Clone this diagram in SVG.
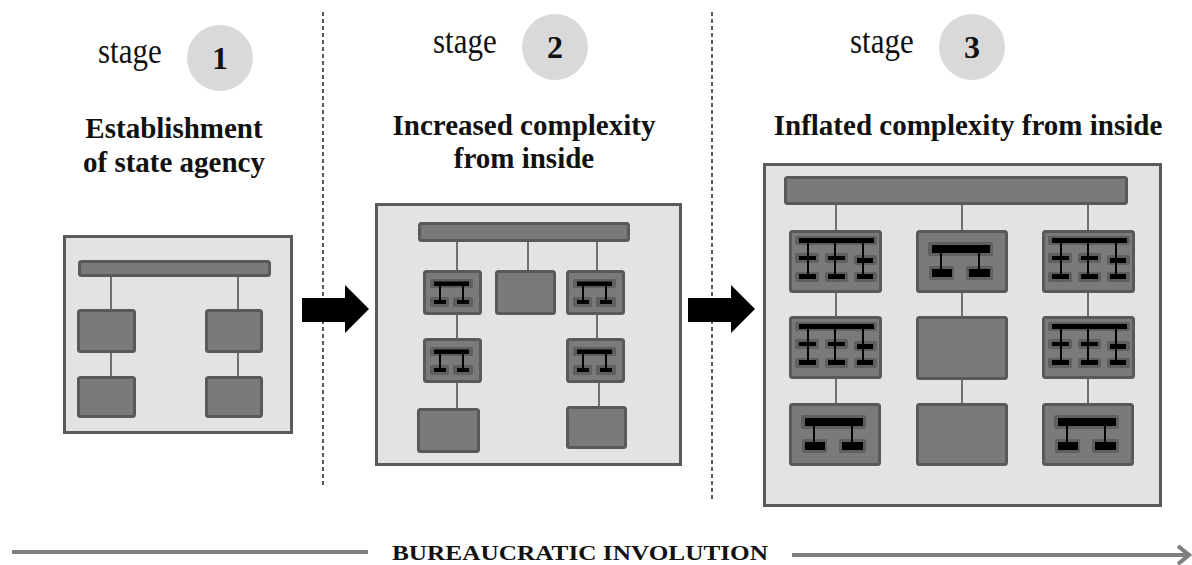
<svg xmlns="http://www.w3.org/2000/svg" xmlns:xlink="http://www.w3.org/1999/xlink" width="1192" height="565" viewBox="0 0 1192 565">
<style>
.frame{fill:#e3e3e3;stroke:#5a5a5a;stroke-width:3}
.box{fill:#7a7a7a;stroke:#595959;stroke-width:3}
.ibg{fill:#5f5f5f}
.blk{fill:#000}
.stem{stroke:#000;stroke-width:2}
.con{stroke:#707070;stroke-width:2;fill:none}
.dash{stroke:#000;stroke-width:1.3;stroke-dasharray:4 3}
.stg{font-family:"Liberation Serif","Times New Roman",serif;font-size:31px;fill:#111}
.num{font-family:"Liberation Serif","Times New Roman",serif;font-size:32px;font-weight:bold;fill:#111;text-anchor:middle}
.hd{font-family:"Liberation Serif","Times New Roman",serif;font-size:29px;font-weight:bold;fill:#111;text-anchor:middle}
.ft{font-family:"Liberation Serif","Times New Roman",serif;font-size:22px;font-weight:bold;fill:#111}
.circ{fill:#d9d9d9}
.gl{stroke:#7f7f7f;stroke-width:4;fill:none}
</style>
<defs>
<g id="p2">
<rect class="box" x="1.5" y="1.5" width="56" height="42" rx="2"/>
<rect class="ibg" x="7" y="9" width="43" height="9" rx="2"/>
<rect class="ibg" x="7" y="27" width="19" height="10" rx="2"/>
<rect class="ibg" x="30" y="27" width="20" height="10" rx="2"/>
<line class="stem" x1="17" y1="15" x2="17" y2="30"/>
<line class="stem" x1="40" y1="15" x2="40" y2="30"/>
<rect class="blk" x="11" y="11.5" width="35" height="4.5"/>
<rect class="blk" x="11" y="30" width="12" height="4"/>
<rect class="blk" x="34" y="30" width="12" height="4"/>
</g>
<g id="p3col">
<rect class="box" x="1.5" y="1.5" width="90" height="60" rx="2"/>
<rect class="ibg" x="6" y="6" width="82" height="9" rx="2"/>
<rect class="ibg" x="6" y="23" width="24" height="10" rx="2"/>
<rect class="ibg" x="36" y="23" width="23" height="10" rx="2"/>
<rect class="ibg" x="65" y="25" width="23" height="10" rx="2"/>
<rect class="ibg" x="6" y="42" width="24" height="10" rx="2"/>
<rect class="ibg" x="36" y="42" width="23" height="10" rx="2"/>
<rect class="ibg" x="65" y="42" width="23" height="10" rx="2"/>
<line class="stem" x1="19" y1="12" x2="19" y2="47"/>
<line class="stem" x1="46" y1="12" x2="46" y2="47"/>
<line class="stem" x1="74" y1="12" x2="74" y2="47"/>
<rect class="blk" x="10" y="8" width="75" height="5"/>
<rect class="blk" x="10" y="26" width="17" height="4"/>
<rect class="blk" x="39" y="26" width="17" height="4"/>
<rect class="blk" x="68" y="28" width="16" height="5"/>
<rect class="blk" x="10" y="44" width="17" height="5"/>
<rect class="blk" x="39" y="44" width="17" height="5"/>
<rect class="blk" x="68" y="44" width="16" height="5"/>
</g>
<g id="p2col">
<rect class="box" x="1.5" y="1.5" width="89" height="60" rx="2"/>
<rect class="ibg" x="12" y="12" width="65" height="14" rx="2"/>
<rect class="ibg" x="13" y="36" width="25" height="14" rx="2"/>
<rect class="ibg" x="50" y="36" width="27" height="14" rx="2"/>
<line class="stem" x1="25" y1="22" x2="25" y2="39"/>
<line class="stem" x1="63" y1="22" x2="63" y2="39"/>
<rect class="blk" x="16" y="15" width="58" height="8"/>
<rect class="blk" x="16" y="39" width="20" height="8"/>
<rect class="blk" x="53" y="39" width="21" height="8"/>
</g>
</defs>

<g id="separators">
<line class="dash" x1="323" y1="12" x2="323" y2="487"/>
<line class="dash" x1="712" y1="12" x2="712" y2="500"/>
</g>

<g id="stage1-header">
<text class="stg" transform="translate(98,63) scale(1,1.15)">stage</text>
<circle class="circ" cx="220" cy="58" r="33"/>
<text class="num" x="220" y="69">1</text>
<text class="hd" x="174" y="138">Establishment</text>
<text class="hd" x="174" y="172">of state agency</text>
</g>
<g id="stage2-header">
<text class="stg" transform="translate(433,53) scale(1,1.15)">stage</text>
<circle class="circ" cx="555" cy="47" r="33"/>
<text class="num" x="555" y="58">2</text>
<text class="hd" x="524" y="135">Increased complexity</text>
<text class="hd" x="524" y="168">from inside</text>
</g>
<g id="stage3-header">
<text class="stg" transform="translate(850,53) scale(1,1.15)">stage</text>
<circle class="circ" cx="972" cy="47" r="33"/>
<text class="num" x="972" y="58">3</text>
<text class="hd" x="968" y="135">Inflated complexity from inside</text>
</g>

<g id="stage1-agency">
<rect class="frame" x="64.5" y="236.5" width="227" height="196"/>
<g class="connectors">
<line class="con" x1="111" y1="277" x2="111" y2="310"/>
<line class="con" x1="111" y1="352" x2="111" y2="377"/>
<line class="con" x1="238" y1="277" x2="238" y2="310"/>
<line class="con" x1="238" y1="352" x2="238" y2="377"/>
</g>
<rect class="box" x="79.5" y="261.5" width="190" height="14" rx="2"/>
<rect class="box" x="78.5" y="310.5" width="56" height="41" rx="2"/>
<rect class="box" x="78.5" y="377.5" width="56" height="39" rx="2"/>
<rect class="box" x="206.5" y="310.5" width="55" height="41" rx="2"/>
<rect class="box" x="206.5" y="377.5" width="55" height="39" rx="2"/>
</g>

<g id="stage2-agency">
<rect class="frame" x="376.5" y="204.5" width="304" height="260"/>
<g class="connectors">
<line class="con" x1="457" y1="242" x2="457" y2="271"/>
<line class="con" x1="457" y1="314" x2="457" y2="339"/>
<line class="con" x1="457" y1="382" x2="457" y2="409"/>
<line class="con" x1="528" y1="242" x2="528" y2="271"/>
<line class="con" x1="597" y1="242" x2="597" y2="271"/>
<line class="con" x1="597" y1="314" x2="597" y2="339"/>
<line class="con" x1="599" y1="382" x2="599" y2="407"/>
</g>
<rect class="box" x="419.5" y="223.5" width="209" height="17" rx="2"/>
<use xlink:href="#p2" x="423" y="270"/>
<rect class="box" x="496.5" y="271.5" width="58" height="42" rx="2"/>
<use xlink:href="#p2" x="566" y="270"/>
<use xlink:href="#p2" x="423" y="338"/>
<use xlink:href="#p2" x="566" y="338"/>
<rect class="box" x="418.5" y="409.5" width="60" height="42" rx="2"/>
<rect class="box" x="567.5" y="407.5" width="58" height="40" rx="2"/>
</g>

<g id="stage3-agency">
<rect class="frame" x="764.5" y="164.5" width="396" height="341"/>
<g class="connectors">
<line class="con" x1="836" y1="205" x2="836" y2="231"/>
<line class="con" x1="836" y1="292" x2="836" y2="317"/>
<line class="con" x1="836" y1="379" x2="836" y2="404"/>
<line class="con" x1="962" y1="205" x2="962" y2="231"/>
<line class="con" x1="962" y1="292" x2="962" y2="317"/>
<line class="con" x1="962" y1="379" x2="962" y2="404"/>
<line class="con" x1="1088" y1="205" x2="1088" y2="231"/>
<line class="con" x1="1088" y1="292" x2="1088" y2="317"/>
<line class="con" x1="1088" y1="379" x2="1088" y2="404"/>
</g>
<rect class="box" x="785.5" y="177.5" width="341" height="26" rx="2"/>
<use xlink:href="#p3col" x="789" y="230"/>
<use xlink:href="#p2col" x="916" y="230"/>
<use xlink:href="#p3col" x="1042" y="230"/>
<use xlink:href="#p3col" x="789" y="316"/>
<rect class="box" x="917.5" y="317.5" width="89" height="61" rx="2"/>
<use xlink:href="#p3col" x="1042" y="316"/>
<use xlink:href="#p2col" x="789" y="403"/>
<rect class="box" x="917.5" y="404.5" width="89" height="60" rx="2"/>
<use xlink:href="#p2col" x="1042" y="403"/>
</g>

<g id="stage-arrows">
<path d="M302,298 H345 V285 L369,309 L345,333 V322 H302 Z" fill="#000"/>
<path d="M688,298 H731 V285 L755,309 L731,333 V322 H688 Z" fill="#000"/>
</g>

<g id="timeline">
<line class="gl" x1="12" y1="552" x2="368" y2="552"/>
<text class="ft" x="392" y="560" textLength="376" lengthAdjust="spacingAndGlyphs">BUREAUCRATIC INVOLUTION</text>
<line class="gl" x1="792" y1="555" x2="1189" y2="555"/>
<polyline class="gl" points="1178,546 1189,555 1178,564" stroke-linejoin="miter"/>
</g>
</svg>
